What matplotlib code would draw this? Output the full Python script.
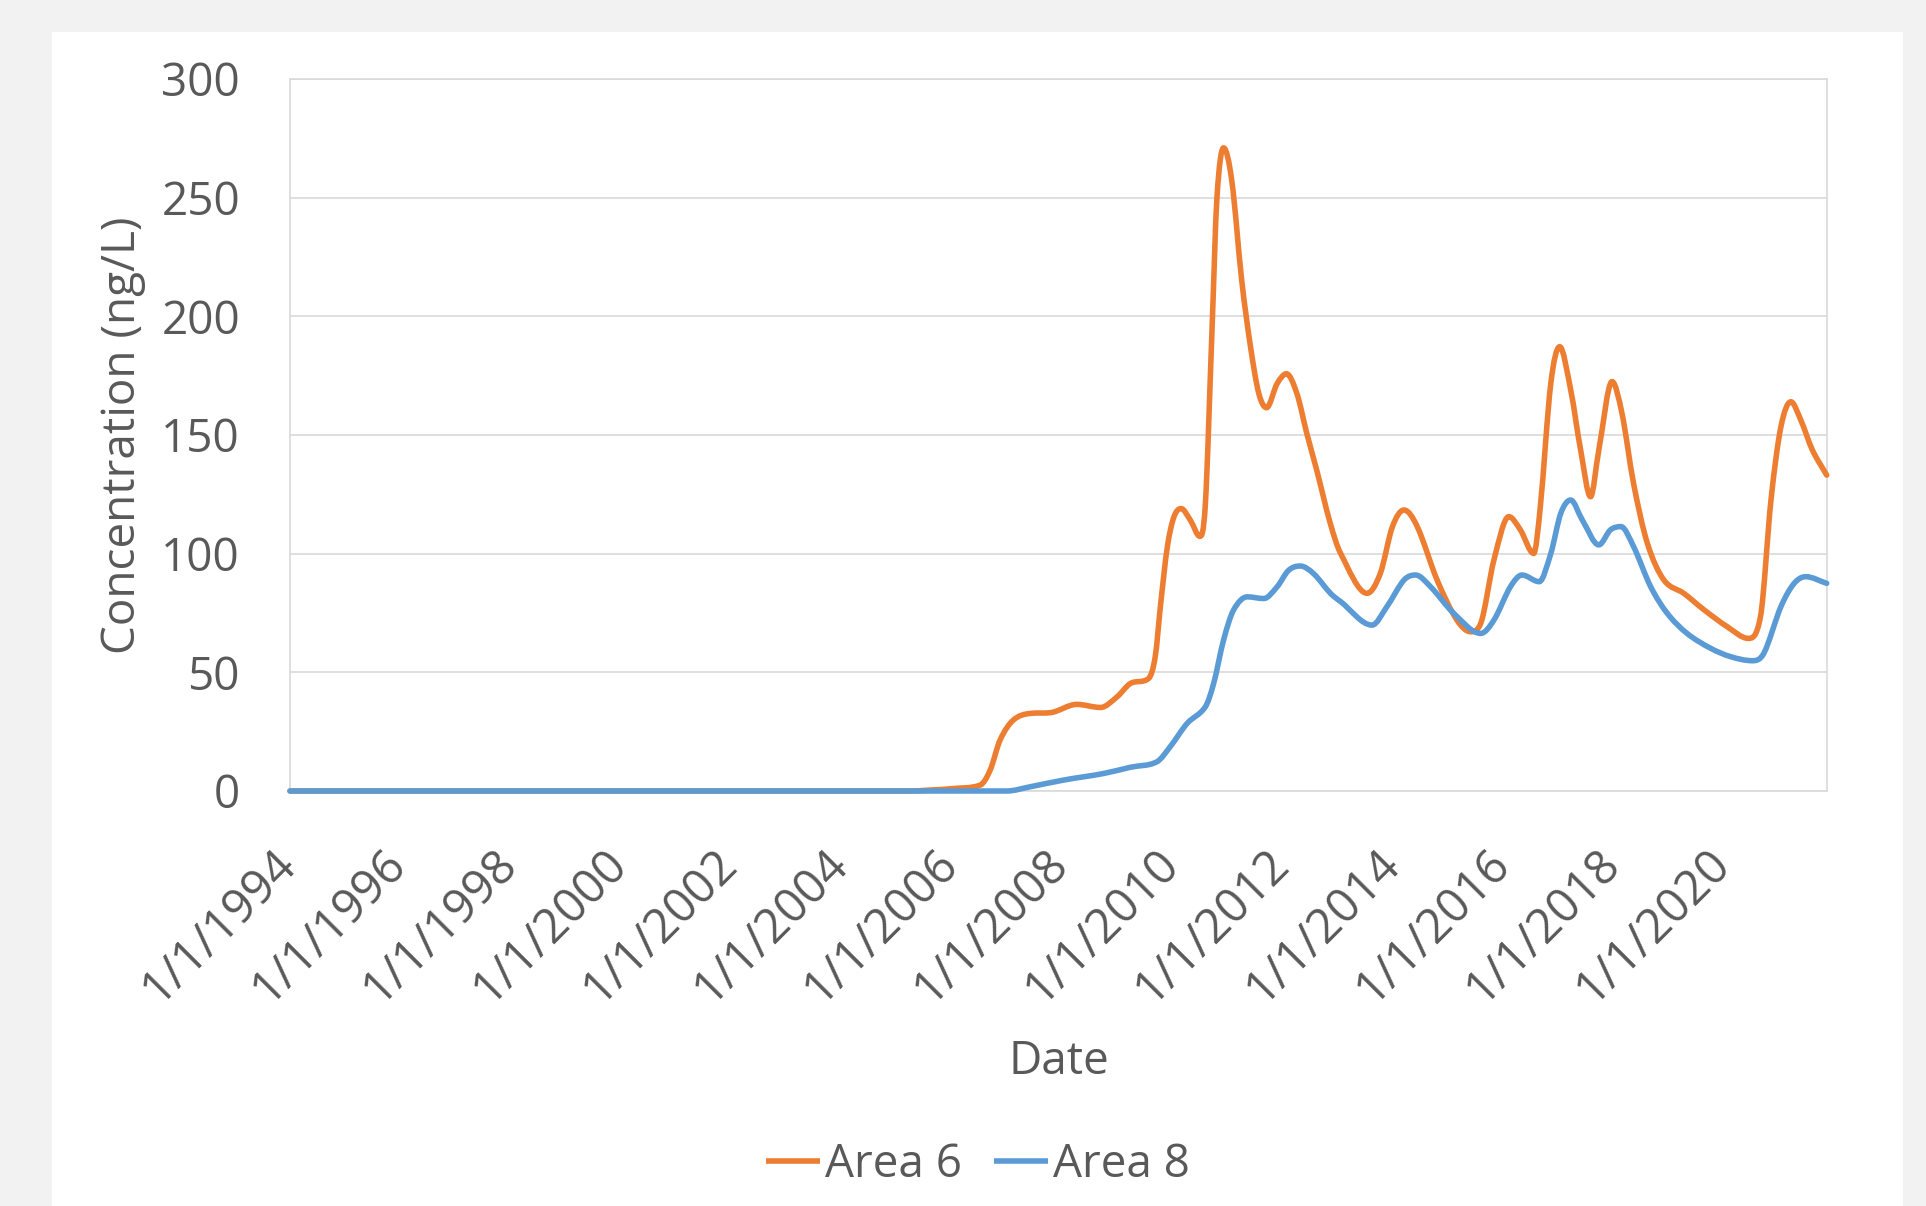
import numpy as np
import matplotlib
matplotlib.use("Agg")
import matplotlib.pyplot as plt
import matplotlib.dates as mdates
from matplotlib.path import Path
from matplotlib.patches import PathPatch, Rectangle
from matplotlib.lines import Line2D
from matplotlib.transforms import ScaledTranslation
import datetime as dt

# ---------------- data ----------------
series_names = ["Area 6", "Area 8"]

area6_years = [1994.0, 2005.2, 2005.6, 2006.0, 2006.51, 2006.69, 2006.87, 2007.11, 2007.42,
               2007.78, 2008.26, 2008.69, 2008.99, 2009.23, 2009.56, 2009.68, 2009.78, 2009.90,
               2010.02, 2010.15, 2010.32, 2010.49, 2010.59, 2010.71, 2010.80, 2010.92, 2011.07,
               2011.25, 2011.41, 2011.56, 2011.70, 2011.89, 2012.06, 2012.25, 2012.43, 2012.61,
               2012.85, 2013.04, 2013.52, 2013.76, 2013.98, 2014.19, 2014.43, 2014.79, 2015.15,
               2015.40, 2015.58, 2015.82, 2016.09, 2016.30, 2016.54, 2016.66, 2016.85, 2017.01,
               2017.21, 2017.39, 2017.57, 2017.72, 2017.96, 2018.14, 2018.35, 2018.60, 2018.90,
               2019.26, 2019.63, 2020.05, 2020.43, 2020.65, 2020.84, 2021.02, 2021.20, 2021.38,
               2021.59, 2021.85]
area6_values = [0.0, 0.0, 0.4, 1.0, 2.5, 8.8, 21.5, 29.9, 32.7,
                33.0, 36.5, 35.2, 39.7, 45.3, 47.4, 56.5, 79.0, 102.8,
                115.5, 119.0, 114.0, 107.3, 121.0, 194.0, 250.0, 271.0, 257.0,
                215.0, 187.0, 167.4, 161.5, 171.6, 175.8, 167.4, 150.5, 135.0,
                113.0, 100.1, 83.3, 91.7, 111.4, 118.4, 111.4, 88.9, 72.0,
                67.1, 70.6, 97.3, 115.6, 110.0, 100.1, 119.8, 171.8, 187.2,
                169.0, 143.7, 124.0, 143.7, 172.5, 159.1, 129.6, 104.4, 88.9,
                83.3, 76.3, 69.2, 64.3, 73.5, 122.6, 153.5, 164.0, 156.3,
                143.7, 133.1]

area8_years = [1994.0, 2006.99, 2007.42, 2008.02, 2008.75, 2009.23, 2009.71, 2009.95, 2010.26,
               2010.59, 2010.74, 2010.92, 2011.10, 2011.35, 2011.65, 2011.89, 2012.10, 2012.31,
               2012.55, 2012.86, 2013.04, 2013.61, 2013.88, 2014.19, 2014.40, 2014.67, 2015.09,
               2015.58, 2015.82, 2016.12, 2016.33, 2016.64, 2016.85, 2017.03, 2017.21, 2017.42,
               2017.72, 2017.93, 2018.12, 2018.35, 2018.66, 2018.96, 2019.32, 2019.75, 2020.11,
               2020.50, 2020.71, 2021.02, 2021.26, 2021.47, 2021.85]
area8_values = [0.0, 0.0, 1.8, 4.6, 7.4, 10.0, 12.3, 18.6, 28.5,
                35.5, 45.3, 63.6, 76.2, 81.8, 81.1, 86.0, 93.0, 94.8,
                91.6, 83.2, 79.8, 69.9, 77.7, 88.9, 91.0, 86.1, 74.9,
                66.4, 72.0, 86.1, 91.0, 88.2, 100.1, 117.0, 122.6, 114.2,
                103.7, 110.0, 111.4, 103.0, 86.1, 74.9, 66.4, 60.1, 56.6,
                54.9, 58.0, 77.7, 87.5, 90.3, 87.5]

tick_years = list(range(1994, 2021, 2))
tick_labels = ["1/1/%d" % y for y in tick_years]
y_ticks = [0, 50, 100, 150, 200, 250, 300]

x_label = "Date"
y_label = "Concentration (ng/L)"

# ---------------- helpers ----------------
def year_to_num(y):
    year = int(np.floor(y))
    frac = y - year
    start = dt.datetime(year, 1, 1)
    end = dt.datetime(year + 1, 1, 1)
    return mdates.date2num(start + (end - start) * frac)


def smooth_path(x, y):
    """Excel-like smoothed line drawn through the points as cubic Bezier segments."""
    x = np.asarray(x, float)
    y = np.asarray(y, float)
    h = np.diff(x)
    d = np.diff(y) / h
    n = len(x)
    m = np.zeros(n)
    for i in range(1, n - 1):
        if d[i - 1] * d[i] <= 0:
            m[i] = 0.0
        else:
            m[i] = (y[i + 1] - y[i - 1]) / (x[i + 1] - x[i - 1])
            lim = 3 * min(abs(d[i - 1]), abs(d[i]))
            if abs(m[i]) > lim:
                m[i] = np.sign(m[i]) * lim
    m[0] = d[0]
    m[-1] = d[-1]
    verts = [(x[0], y[0])]
    codes = [Path.MOVETO]
    for i in range(n - 1):
        verts += [(x[i] + h[i] / 3, y[i] + m[i] * h[i] / 3),
                  (x[i + 1] - h[i] / 3, y[i + 1] - m[i + 1] * h[i] / 3),
                  (x[i + 1], y[i + 1])]
        codes += [Path.CURVE4] * 3
    return Path(verts, codes)


# ---------------- figure ----------------
plt.rcParams["font.family"] = ["Open Sans", "DejaVu Sans"]
text_color = "#595959"
grid_color = "#d9d9d9"
c6 = "#ED7D31"
c8 = "#5B9BD5"

W, H, DPI = 1926, 1206, 100
fig = plt.figure(figsize=(W / DPI, H / DPI), dpi=DPI)
fig.patch.set_facecolor("#f2f2f2")
fig.patches.append(Rectangle((52 / W, 0), (1903 - 52) / W, 1 - 32 / H,
                             transform=fig.transFigure, facecolor="white",
                             edgecolor="none", zorder=-10))

left, right, top, bottom = 290 / W, 1826.7 / W, 1 - 79 / H, 1 - 791 / H
ax = fig.add_axes([left, bottom, right - left, top - bottom])
ax.set_facecolor("white")
ax.set_zorder(1)

x6 = [year_to_num(v) for v in area6_years]
x8 = [year_to_num(v) for v in area8_years]

lw = 4.0
for xs, ys, col, z in [(x6, area6_values, c6, 3), (x8, area8_values, c8, 4)]:
    patch = PathPatch(smooth_path(xs, ys), facecolor="none", edgecolor=col, lw=lw,
                      capstyle="round", joinstyle="round", zorder=z, clip_on=False)
    ax.add_patch(patch)

ax.set_xlim(year_to_num(1994.0), year_to_num(2021.85))
ax.set_ylim(0, 300)

ax.set_yticks(y_ticks)
ax.set_yticklabels([str(v) for v in y_ticks])
ax.set_xticks([year_to_num(float(y)) for y in tick_years])
ax.set_xticklabels(tick_labels, rotation=45, ha="right", va="baseline",
                   rotation_mode="anchor")

ax.tick_params(axis="y", length=0, pad=36, labelsize=33, labelcolor=text_color)
ax.tick_params(axis="x", length=0, pad=54, labelsize=34, labelcolor=text_color)

shift = ScaledTranslation(8 / DPI, 0, fig.dpi_scale_trans)
for lab in ax.get_xticklabels():
    lab.set_transform(lab.get_transform() + shift)

ax.grid(axis="y", color=grid_color, lw=1.2, zorder=1)
ax.set_axisbelow(True)
for s in ax.spines.values():
    s.set_color(grid_color)
    s.set_linewidth(1.2)

fig.text(123 / W, 1 - 435 / H, y_label, rotation=90, ha="center", va="center",
         fontsize=33, color=text_color)
fig.text(1059 / W, 1 - 1062 / H, x_label, ha="center", va="center",
         fontsize=33, color=text_color)

handles = [Line2D([], [], color=c6, lw=lw, solid_capstyle="butt"),
           Line2D([], [], color=c8, lw=lw, solid_capstyle="butt")]
fig.legend(handles, series_names, loc="center", bbox_to_anchor=(978 / W, 1 - 1165 / H),
           ncol=2, frameon=False, fontsize=33, labelcolor=text_color,
           handlelength=1.18, handletextpad=0.1, columnspacing=0.7,
           borderpad=0, borderaxespad=0)

fig.savefig("out.png", dpi=DPI, facecolor=fig.get_facecolor())
